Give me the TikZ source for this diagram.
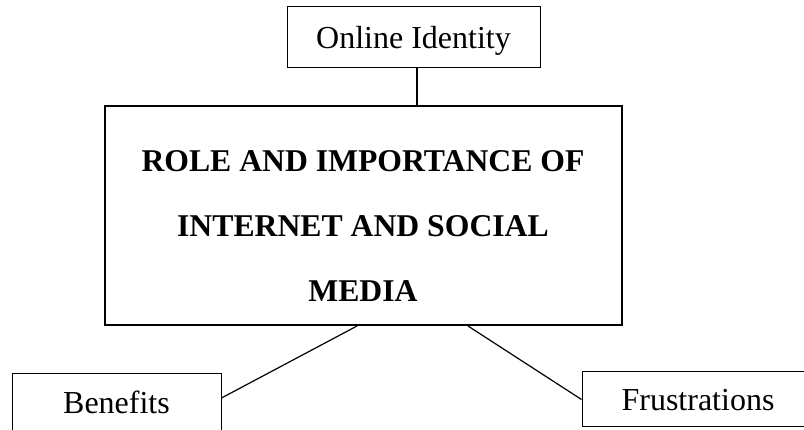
\documentclass[tikz,border=0pt]{standalone}
\usepackage{fontspec}
\setmainfont{Liberation Serif}
\begin{document}
\begin{tikzpicture}[x=1pt,y=-1pt,
  smallbox/.style={draw=black,line width=1pt,rectangle,inner sep=0pt,
    font=\fontsize{32}{38}\selectfont,text height=21.2pt,text depth=0pt},
  bigbox/.style={draw=black,line width=2pt,rectangle,inner sep=0pt},
  conn/.style={draw=black,line width=1.2pt}]
\useasboundingbox (0,0) rectangle (804,430);
\clip (0,0) rectangle (804,430);
\node[smallbox,minimum width=253pt,minimum height=61pt] (oi) at (413.5,37.5) {Online Identity};
\node[bigbox,minimum width=517pt,minimum height=219pt] (main) at (363.5,215.5) {};
\node[anchor=base,align=center,inner sep=0pt,font=\fontsize{31.7}{65}\selectfont\bfseries] (title) at (363,302) {ROLE AND IMPORTANCE OF\\INTERNET AND SOCIAL\\MEDIA};
\node[smallbox,minimum width=209pt,minimum height=57pt] (be) at (116.5,402.5) {Benefits};
\node[smallbox,minimum width=232pt,minimum height=55pt] (fr) at (698,399.5) {Frustrations};
\coordinate (c1) at (417,0);
\coordinate (c2) at (357,0);
\coordinate (c3) at (468,0);
\coordinate (c4) at (0,398);
\draw[conn] (oi.south -| c1) -- (main.north -| c1);
\draw[conn] (main.south -| c2) -- (be.east |- c4);
\draw[conn] (main.south -| c3) -- (fr.west);
\end{tikzpicture}
\end{document}
